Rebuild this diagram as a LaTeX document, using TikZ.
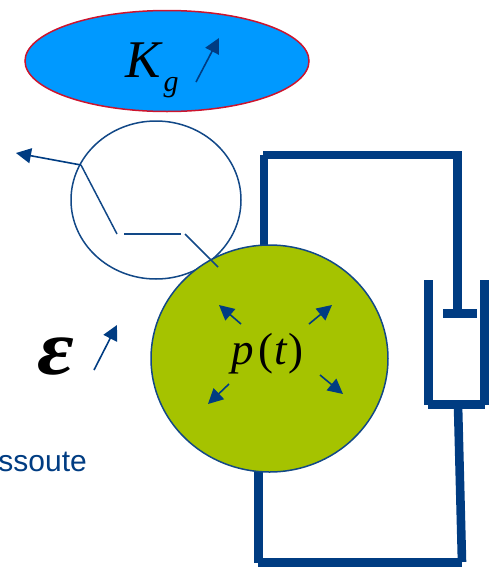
\documentclass[tikz,border=0pt]{standalone}
\usepackage{fontspec}
\setmainfont{Liberation Serif}
\newfontfamily\labelsans{Liberation Sans}
\usetikzlibrary{arrows.meta,shapes.geometric}
\definecolor{navy}{RGB}{0,60,130}
\definecolor{thin}{RGB}{18,72,135}
\definecolor{skyfill}{RGB}{0,153,255}
\definecolor{gasred}{RGB}{205,20,45}
\definecolor{olive}{RGB}{165,195,0}
\tikzset{
  wire/.style={draw=navy,line width=8.6pt},
  thinline/.style={draw=thin,line width=1.5pt},
  arrowline/.style={draw=navy,line width=1.6pt,-{Triangle[length=15pt,width=15pt]}},
  symbol/.style={inner sep=0pt,outer sep=0pt,text=black,anchor=base}
}
\begin{document}
\begin{tikzpicture}[x=1pt,y=-1pt]
\useasboundingbox (0,0) rectangle (495,573);
% ellipse
\node (gas) [ellipse,draw=gasred,fill=skyfill,line width=1.5pt,minimum width=284pt,minimum height=101pt,inner sep=0pt] at (167,61) {};
\node (K) [symbol] at (143,77) {\fontsize{53}{53}\selectfont\itshape K};
\node (g) [symbol] at (171,91) {\fontsize{30}{30}\selectfont\itshape g};
\coordinate (ka) at (196,82); \coordinate (kb) at (219,38);
\draw[arrowline] (ka) -- (kb);
% frame wires
\coordinate (f1) at (264,250); \coordinate (f2) at (264,155); \coordinate (f3) at (457.5,155); \coordinate (f4) at (457.5,313);
\draw[wire] (f1) -- (f2);
\draw[wire] (263,155) -- (f3) ;
\draw[wire] (457.5,151) -- (f4);
\draw[wire] (443,313.5) -- (477,313.5);
\draw[wire] (428.5,280) -- (428.5,405);
\draw[wire] (484.5,280) -- (484.5,405);
\draw[wire] (428,404.5) -- (485,404.5);
\draw[wire] (458,405) -- (462,562);
\draw[wire] (258,562.5) -- (462,562.5);
\draw[wire] (258.5,465) -- (258.5,563);
% small circle
\node (spring) [ellipse,draw=thin,line width=1.5pt,minimum width=170pt,minimum height=158pt,inner sep=0pt] at (156,200) {};
% green circle
\node (vessel) [ellipse,draw=thin,fill=olive,line width=1.5pt,minimum width=237pt,minimum height=227pt,inner sep=0pt] at (269.5,358.5) {};
% linkage
\coordinate (a) at (81,165); \coordinate (b) at (117,234); \coordinate (c) at (124,234);
\coordinate (d) at (181,234); \coordinate (e) at (185,234); \coordinate (f) at (218,267);
\coordinate (tip) at (16,153);
\draw[thinline] (a) -- (b);
\draw[thinline] (c) -- (d);
\draw[thinline] (e) -- (f);
\draw[arrowline] (a) -- (tip);
% epsilon
\node (eps) [symbol] at (56,374) {\fontsize{78}{78}\selectfont\itshape\bfseries\scalebox{1.15}[1]{ε}};
\coordinate (ea) at (94,370); \coordinate (eb) at (117,325);
\draw[arrowline] (ea) -- (eb);
% pressure
\node (p) [symbol,anchor=base west] at (231,364) {\fontsize{45}{45}\selectfont\itshape p\kern5pt{\upshape(}\kern1pt t\kern2pt{\upshape)}};
\coordinate (p1) at (241,324); \coordinate (p1t) at (219,305);
\coordinate (p2) at (229,384); \coordinate (p2t) at (208,404);
\coordinate (p3) at (309,324); \coordinate (p3t) at (332,305);
\coordinate (p4) at (320,375); \coordinate (p4t) at (343,394);
\draw[arrowline] (p1) -- (p1t);
\draw[arrowline] (p2) -- (p2t);
\draw[arrowline] (p3) -- (p3t);
\draw[arrowline] (p4) -- (p4t);
% clipped label
\node (lab) [inner sep=0pt,anchor=base east,text=navy] at (87,471) {\labelsans\fontsize{30}{30}\selectfont ssoute};
\end{tikzpicture}
\end{document}
